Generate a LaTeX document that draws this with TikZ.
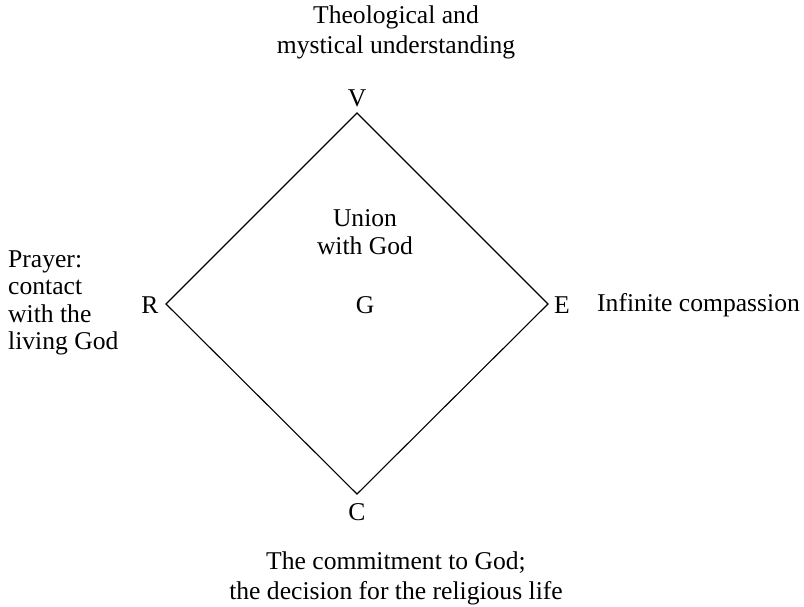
\documentclass[tikz,border=0pt]{standalone}
\usepackage{fontspec}
\setmainfont{Liberation Serif}
\begin{document}
\begin{tikzpicture}[x=1pt,y=-1pt,
  txt/.style={inner sep=0pt,font=\fontsize{25.6}{27.5}\selectfont},
  wide/.style={font=\fontsize{25.6}{30}\selectfont},
  edge/.style={line width=1.1pt,line join=miter}]
\useasboundingbox (0,0) rectangle (804,606);
% diamond corners
\coordinate (v) at (357,113);
\coordinate (e) at (548,304);
\coordinate (c) at (357,494);
\coordinate (r) at (166,304);
\draw[edge] (v) -- (e) -- (c) -- (r) -- cycle;
% corner letters
\node[txt] (vl) at (357,98) {V};
\node[txt] (el) at (562,305) {E};
\node[txt] (cl) at (357,512) {C};
\node[txt] (rl) at (150,305) {R};
\node[txt] (gl) at (365,305) {G};
% descriptions
\node[txt,wide,align=center] (top) at (396,32) {Theological and\\mystical understanding};
\node[txt,align=center] (union) at (365,232) {Union\\with God};
\node[txt,align=left,anchor=west] (prayer) at (8,303) {Prayer:\\contact\\with the\\living God};
\node[txt,anchor=west] (comp) at (597,305) {Infinite compassion};
\node[txt,wide,align=center] (bottom) at (396,578) {The commitment to God;\\the decision for the religious life};
\end{tikzpicture}
\end{document}
